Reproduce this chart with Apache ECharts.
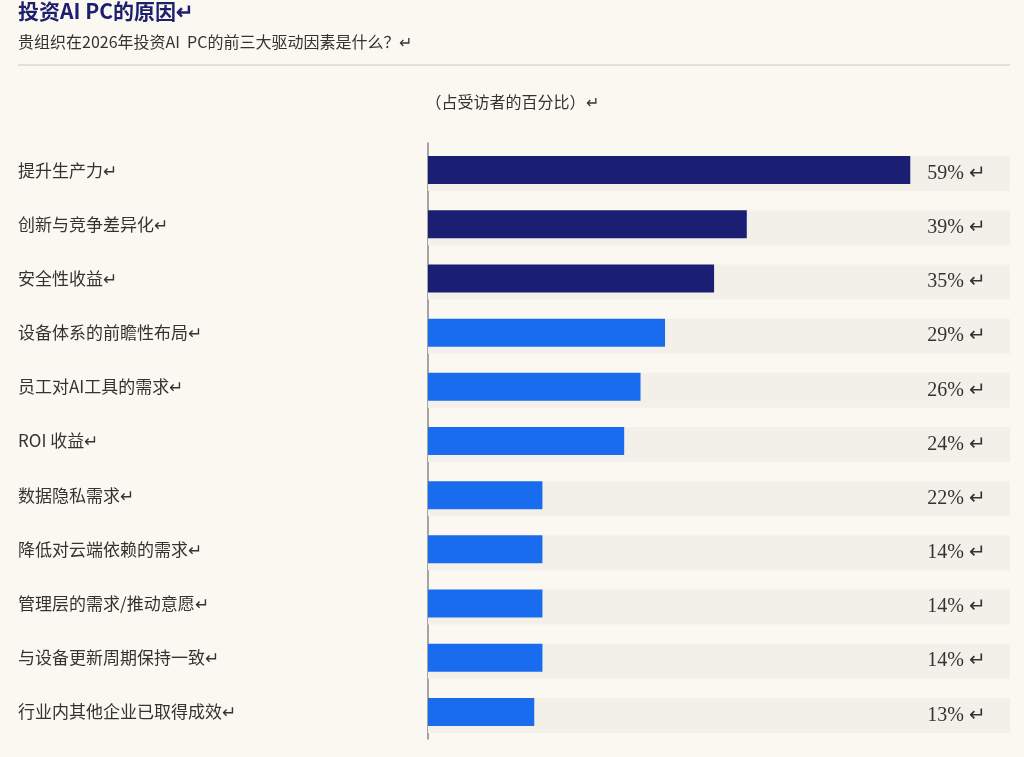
<!DOCTYPE html>
<html>
<head>
<meta charset="utf-8">
<script src="https://cdn.jsdelivr.net/npm/echarts@6/dist/echarts.min.js"></script>
<style>
  html, body { margin: 0; padding: 0; background: #fbf8f2; }
  #chart { width: 1024px; height: 757px; }
</style>
</head>
<body>
<div id="chart"></div>
<script>
'use strict';
const categories = ['提升生产力', '创新与竞争差异化', '安全性收益', '设备体系的前瞻性布局', '员工对AI工具的需求',
    'ROI 收益', '数据隐私需求', '降低对云端依赖的需求', '管理层的需求/推动意愿', '与设备更新周期保持一致', '行业内其他企业已取得成效'];
// bar lengths as drawn in the picture
const barValues = [59, 39, 35, 29, 26, 24, 14, 14, 14, 14, 13];
// printed value labels
const valueLabels = ['59%', '39%', '35%', '29%', '26%', '24%', '22%', '14%', '14%', '14%', '13%'];
const axisMax = 71.2;

function init() {
    const chart = echarts.init(document.getElementById('chart'));
    const option = {
        backgroundColor: '#fbf8f2',
        graphic: [
            { type: 'text', left: 18, top: 1, style: { text: '投资AI PC的原因↵', fill: '#1b1f6e', font: 'bold 21px "Noto Sans CJK SC"' } },
            { type: 'text', left: 18, top: 34, style: { text: '贵组织在2026年投资AI  PC的前三大驱动因素是什么？↵', fill: '#333', font: '16px "Noto Sans CJK SC"' } },
            { type: 'line', shape: { x1: 18, y1: 65, x2: 1010, y2: 65 }, style: { stroke: '#c8c8c8', lineWidth: 1 } },
            { type: 'text', left: 'center', top: 94, style: { text: '（占受访者的百分比）↵', fill: '#333', font: '16px "Noto Sans CJK SC"' } }
        ],
        grid: { left: 428, right: 14, top: 143, bottom: 18 },
        xAxis: { type: 'value', min: 0, max: axisMax, show: false },
        yAxis: {
            type: 'category',
            data: categories,
            inverse: true,
            axisTick: { show: false },
            axisLine: { show: true, lineStyle: { color: '#888', width: 1.5 } },
            axisLabel: {
                margin: 410,
                align: 'left',
                color: '#333',
                fontSize: 17,
                fontFamily: 'Noto Sans CJK SC',
                formatter: (v) => v + '↵'
            }
        },
        series: [
            {
                type: 'bar',
                data: categories.map(() => axisMax),
                barWidth: 35,
                itemStyle: { color: '#f3f0ea' },
                silent: true,
                z: 1,
                label: {
                    show: true,
                    position: 'insideRight',
                    distance: 24,
                    color: '#333',
                    fontSize: 20,
                    fontFamily: 'Liberation Serif',
                    formatter: (p) => valueLabels[p.dataIndex] + ' ↵'
                }
            },
            {
                type: 'bar',
                data: barValues.map((v, i) => ({ value: v, itemStyle: { color: i < 3 ? '#1b1f73' : '#1a6cef' } })),
                barWidth: 28,
                barGap: '-100%',
                z: 2
            }
        ]
    };
    chart.setOption(option);
}

(function () {
    init();
})();
</script>
</body>
</html>
